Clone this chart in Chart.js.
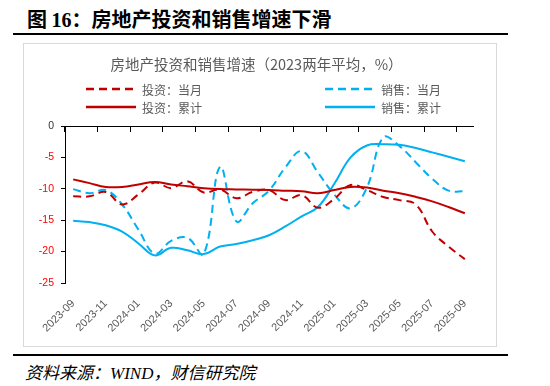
<!DOCTYPE html>
<html>
<head>
<meta charset="utf-8">
<script src="https://cdn.jsdelivr.net/npm/chart.js@4.4.0/dist/chart.umd.min.js"></script>
<style>
  body { margin: 0; width: 550px; height: 386px; background: #fff; position: relative; overflow: hidden;
         font-family: 'Noto Sans CJK SC', sans-serif; }
  #fig-title { position: absolute; left: 27px; top: 4px; font-size: 20px; font-weight: bold; color: #000; white-space: nowrap; }
  #fig-title .num { font-family: 'Liberation Serif', serif; }
  .rule { position: absolute; left: 13px; width: 495px; height: 2px; background: #000; }
  #frame { position: absolute; left: 23px; top: 43px; width: 474px; height: 304px; box-sizing: border-box; border: 1px solid #d9d9d9; }
  #chart-box { position: absolute; left: 0; top: 0; width: 472px; height: 302px; }
  #chart-title { position: absolute; left: 0; top: 9px; width: 465px; text-align: center; font-size: 14.5px; color: #595959; white-space: nowrap; }
  .leg { position: absolute; height: 16px; display: flex; align-items: center; font-size: 12px; color: #595959; white-space: nowrap; }
  .leg span { margin-left: 6px; }
  #source { position: absolute; left: 25px; top: 359px; font-size: 17px; font-style: italic; color: #000;
            font-family: 'Liberation Serif', 'Noto Sans CJK SC', serif; white-space: nowrap; }
</style>
</head>
<body>
<div id="fig-title">图 <span class="num">16</span>：房地产投资和销售增速下滑</div>
<div class="rule" style="top:33px"></div>
<div id="frame">
  <div id="chart-box"><canvas id="chart"></canvas></div>
  <div id="chart-title">房地产投资和销售增速（2023两年平均，%）</div>
  <div id="legend"></div>
</div>
<div class="rule" style="top:354px"></div>
<div id="source">资料来源：WIND，财信研究院</div>

<script>
const months = ['2023-09', '2023-10', '2023-11', '2023-12', '2024-01', '2024-02', '2024-03', '2024-04',
                '2024-05', '2024-06', '2024-07', '2024-08', '2024-09', '2024-10', '2024-11', '2024-12',
                '2025-01', '2025-02', '2025-03', '2025-04', '2025-05', '2025-06', '2025-07', '2025-08', '2025-09'];

// 投资：当月
const invMonthly = [-11.2, -11.2, -10.5, -12.5, -10.9, -9.0, -9.9, -8.8, -10.6, -10.1, -11.5, -10.5, -10.2,
                    -11.8, -11.0, -13.0, -11.6, -9.4, -10.2, -11.3, -11.8, -12.5, -16.8, -19.2, -21.2];
// 投资：累计
const invCumulative = [-8.5, -9.1, -9.7, -9.7, -9.3, -8.9, -9.3, -9.6, -9.9, -10.05, -10.1, -10.15, -10.2,
                       -10.3, -10.4, -10.7, -10.2, -9.7, -9.8, -10.3, -10.7, -11.3, -12.0, -12.9, -13.9];
// 销售：当月
const salesMonthly = [-10.05, -10.7, -10.2, -12.5, -16.5, -20.3, -18.3, -17.8, -20.4, -6.5, -15.2, -12.3, -10.3,
                      -6.6, -4.0, -7.4, -10.9, -13.1, -9.8, -1.8, -3.2, -5.8, -8.4, -10.3, -10.4];
// 销售：累计
const salesCumulative = [-15.1, -15.3, -15.8, -16.8, -18.7, -20.6, -19.4, -19.8, -20.4, -19.2, -18.8, -18.2, -17.4,
                         -16.0, -14.4, -12.9, -9.2, -5.0, -3.1, -2.9, -3.0, -3.5, -4.2, -4.9, -5.6];

const yMin = -25, yMax = 0, yStep = 5;

const RED = '#C00000';
const BLUE = '#00B0F0';
const DASH = [8, 5];

const datasets = [
  { label: '投资：当月', data: invMonthly, borderColor: RED, borderDash: DASH },
  { label: '投资：累计', data: invCumulative, borderColor: RED, borderDash: [] },
  { label: '销售：当月', data: salesMonthly, borderColor: BLUE, borderDash: DASH },
  { label: '销售：累计', data: salesCumulative, borderColor: BLUE, borderDash: [] }
].map(d => Object.assign(d, { borderWidth: 2, pointRadius: 0, tension: 0.4, fill: false }));

// legend: two columns, two rows (left edge of line, vertical centre) inside the frame
const legendPos = [[62, 45], [62, 63], [301, 45], [301, 63]];
const legend = document.getElementById('legend');
datasets.forEach((d, i) => {
  const item = document.createElement('div');
  item.className = 'leg';
  item.style.left = legendPos[i][0] + 'px';
  item.style.top = (legendPos[i][1] - 8) + 'px';
  item.innerHTML = '<svg width="50" height="16"><line x1="0" y1="8" x2="50" y2="8" stroke="' + d.borderColor +
    '" stroke-width="2.5" stroke-dasharray="' + (d.borderDash.length ? d.borderDash.join(',') : 'none') + '"/></svg>' +
    '<span>' + d.label + '</span>';
  legend.appendChild(item);
});

Chart.defaults.font.family = "'Liberation Sans', 'Noto Sans CJK SC', sans-serif";

new Chart(document.getElementById('chart'), {
  type: 'line',
  data: { labels: months, datasets: datasets },
  options: {
    responsive: true,
    maintainAspectRatio: false,
    animation: false,
    layout: { padding: { top: 82, right: 23, left: 0, bottom: 0 } },
    plugins: { legend: { display: false }, title: { display: false }, tooltip: { enabled: false } },
    scales: {
      x: {
        type: 'category',
        position: 'bottom',
        offset: true,
        grid: { display: false },
        border: { display: false },
        ticks: {
          autoSkip: false, maxRotation: 45, minRotation: 45, padding: 6,
          color: '#595959', font: { size: 11 },
          callback: function (v, i) { return i % 2 === 0 ? this.getLabelForValue(v) : ''; }
        },
        afterFit: s => { s.height = 63; }
      },
      xTop: {
        type: 'category',
        axis: 'x',
        position: { y: 0 },
        offset: true,
        grid: {
          offset: true, drawOnChartArea: false, drawTicks: true, tickLength: 5, lineWidth: 1,
          color: c => c.index % 2 === 0 ? '#000' : 'rgba(0,0,0,0)'
        },
        border: { display: true, color: '#000', width: 1 },
        ticks: { display: false, autoSkip: false }
      },
      y: {
        min: yMin, max: yMax,
        position: 'left',
        ticks: {
          stepSize: yStep, padding: 7, font: { size: 10.5 },
          color: c => c.tick.value === 0 ? '#333' : '#FF0000'
        },
        grid: { drawOnChartArea: false, drawTicks: true, tickLength: 4, color: '#000' },
        border: { display: true, color: '#000', width: 1 },
        afterFit: s => { s.width = 41; }
      }
    }
  }
});
</script>
</body>
</html>
